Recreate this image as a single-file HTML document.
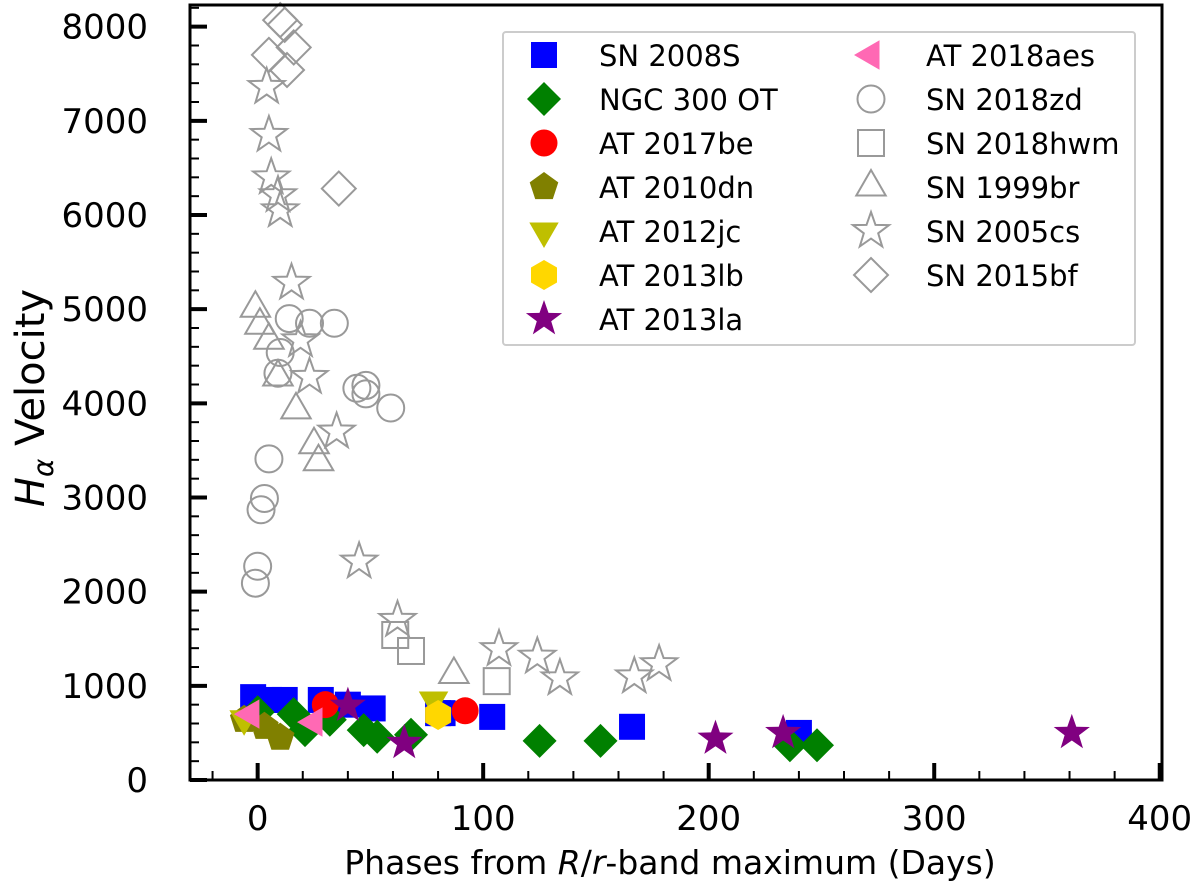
<!DOCTYPE html>
<html><head><meta charset="utf-8"><style>
body{margin:0;background:#fff}
svg{display:block;font-family:"DejaVu Sans","Liberation Sans",sans-serif}
</style></head><body>
<svg id="chart" width="1200" height="894" viewBox="0 0 1200 894" xmlns="http://www.w3.org/2000/svg">
<g id="marks"></g>
<g id="axes"></g>
<g id="legend"></g>
</svg>
<script>
const xTicks=[0,100,200,300,400];
const yTicks=[0,1000,2000,3000,4000,5000,6000,7000,8000];
const sn2008S_x=[-2,5,12,28,40,51,80,82,104,166,240];
const sn2008S_y=[880,850,850,850,800,760,710,710,670,565,500];
const ngc300_x=[0,16,21,32,47,53,68,125,152,236,248];
const ngc300_y=[720,700,530,640,530,460,480,415,415,370,370];
const at2017be_x=[30,92];
const at2017be_y=[800,735];
const at2010dn_x=[-6,3,10];
const at2010dn_y=[640,565,450];
const at2012jc_x=[-6,78];
const at2012jc_y=[650,850];
const at2013lb_x=[80];
const at2013lb_y=[690];
const at2013la_x=[40,65,203,233,361];
const at2013la_y=[790,395,440,500,500];
const at2018aes_x=[-3,25];
const at2018aes_y=[700,615];
const sn2018zd_x=[-1,0,1.5,3,5,10,9,14,23,34,44,48,48,59];
const sn2018zd_y=[2090,2270,2870,2990,3410,4540,4320,4900,4850,4850,4160,4190,4100,3950];
const sn2018hwm_x=[61,68,106];
const sn2018hwm_y=[1540,1370,1050];
const sn1999br_x=[-1,1,5,9,17,25,27,87];
const sn1999br_y=[5010,4830,4670,4280,3930,3560,3380,1120];
const sn2005cs_x=[4,5,6,9,10,15,19,23,35,45,62,107,124,134,167,178];
const sn2005cs_y=[7360,6850,6400,6210,6050,5280,4670,4280,3700,2320,1700,1390,1310,1080,1100,1230];
const sn2015bf_x=[10,12,16,5,13,36];
const sn2015bf_y=[8070,8020,7780,7700,7540,6280];

const L=190,R=1162,T=5,B=780;
const X0=-30,X1=401,Y0=0,Y1=8230;
const sx=v=>L+(v-X0)/(X1-X0)*(R-L);
const sy=v=>B-(v-Y0)/(Y1-Y0)*(B-T);
const NS="http://www.w3.org/2000/svg";
function mk(tag,attrs,parent){const e=document.createElementNS(NS,tag);for(const k in attrs)e.setAttribute(k,attrs[k]);parent.appendChild(e);return e;}
function starPts(cx,cy,r){let p=[];for(let i=0;i<10;i++){const a=-Math.PI/2+i*Math.PI/5;const rr=i%2?r*0.4:r;p.push((cx+rr*Math.cos(a)).toFixed(1)+","+(cy+rr*Math.sin(a)).toFixed(1));}return p.join(" ");}
function polyPts(cx,cy,r,n,rot){let p=[];for(let i=0;i<n;i++){const a=rot+i*2*Math.PI/n;p.push((cx+r*Math.cos(a)).toFixed(1)+","+(cy+r*Math.sin(a)).toFixed(1));}return p.join(" ");}
function marker(shape,cx,cy,fill,stroke,parent,s){
  s=s||1;let e;const st=stroke?{fill:"none",stroke:stroke,"stroke-width":2}:{fill:fill};
  if(shape==="square"){e=mk("rect",Object.assign({x:cx-13*s,y:cy-13*s,width:26*s,height:26*s},st),parent);}
  else if(shape==="diamond"){e=mk("polygon",Object.assign({points:polyPts(cx,cy,17*s,4,0)},st),parent);}
  else if(shape==="circle"){e=mk("circle",Object.assign({cx:cx,cy:cy,r:13.5*s},st),parent);}
  else if(shape==="pentagon"){e=mk("polygon",Object.assign({points:polyPts(cx,cy,15*s,5,-Math.PI/2)},st),parent);}
  else if(shape==="tdown"){e=mk("polygon",Object.assign({points:polyPts(cx,cy,17*s,3,Math.PI/2)},st),parent);}
  else if(shape==="tleft"){e=mk("polygon",Object.assign({points:polyPts(cx,cy,17*s,3,Math.PI)},st),parent);}
  else if(shape==="tup"){e=mk("polygon",Object.assign({points:polyPts(cx,cy,17*s,3,-Math.PI/2)},st),parent);}
  else if(shape==="hex"){e=mk("polygon",Object.assign({points:polyPts(cx,cy,15*s,6,-Math.PI/2)},st),parent);}
  else if(shape==="star"){e=mk("polygon",Object.assign({points:starPts(cx,cy,19*s)},st),parent);}
  return e;
}
const series=[
 {name:"SN 2008S",x:sn2008S_x,y:sn2008S_y,shape:"square",fill:"#0000ff",key:"sn-2008s"},
 {name:"NGC 300 OT",x:ngc300_x,y:ngc300_y,shape:"diamond",fill:"#008000",key:"ngc-300-ot"},
 {name:"AT 2017be",x:at2017be_x,y:at2017be_y,shape:"circle",fill:"#ff0000",key:"at-2017be"},
 {name:"AT 2010dn",x:at2010dn_x,y:at2010dn_y,shape:"pentagon",fill:"#808000",key:"at-2010dn"},
 {name:"AT 2012jc",x:at2012jc_x,y:at2012jc_y,shape:"tdown",fill:"#bfbf00",key:"at-2012jc"},
 {name:"AT 2013lb",x:at2013lb_x,y:at2013lb_y,shape:"hex",fill:"#ffd700",key:"at-2013lb"},
 {name:"AT 2013la",x:at2013la_x,y:at2013la_y,shape:"star",fill:"#800080",key:"at-2013la"},
 {name:"AT 2018aes",x:at2018aes_x,y:at2018aes_y,shape:"tleft",fill:"#ff69b4",key:"at-2018aes"},
 {name:"SN 2018zd",x:sn2018zd_x,y:sn2018zd_y,shape:"circle",stroke:"#999",key:"sn-2018zd"},
 {name:"SN 2018hwm",x:sn2018hwm_x,y:sn2018hwm_y,shape:"square",stroke:"#999",key:"sn-2018hwm"},
 {name:"SN 1999br",x:sn1999br_x,y:sn1999br_y,shape:"tup",stroke:"#999",key:"sn-1999br"},
 {name:"SN 2005cs",x:sn2005cs_x,y:sn2005cs_y,shape:"star",stroke:"#999",key:"sn-2005cs"},
 {name:"SN 2015bf",x:sn2015bf_x,y:sn2015bf_y,shape:"diamond",stroke:"#999",key:"sn-2015bf"}
];
const marks=document.getElementById("marks");
const order=[8,9,10,11,12,0,1,2,3,4,5,6,7];
order.forEach(i=>{const s=series[i];
  const g=mk("g",{},marks);
  
  
  s.x.forEach((xv,j)=>{const m=marker(s.shape,sx(xv),sy(s.y[j]),s.fill,s.stroke,g);
    
    
  });
});
const ax=document.getElementById("axes");
for(let v=-20;v<=400;v+=20){if(v%100===0)continue;const t=mk("line",{x1:sx(v),x2:sx(v),y1:B,y2:B-9,stroke:"#000","stroke-width":2},ax);
  
  }
for(let v=200;v<=8200;v+=200){if(v%1000===0)continue;const t=mk("line",{x1:L,x2:L+9,y1:sy(v),y2:sy(v),stroke:"#000","stroke-width":2},ax);
  
  }
xTicks.forEach(v=>{const t=mk("line",{x1:sx(v),x2:sx(v),y1:B,y2:B-17,stroke:"#000","stroke-width":4},ax);
  
  
  const tx=mk("text",{x:sx(v),y:B+50,"font-size":34,"text-anchor":"middle",fill:"#000"},ax);tx.textContent=v;
  
  });
yTicks.forEach(v=>{const t=mk("line",{x1:L,x2:L+17,y1:sy(v),y2:sy(v),stroke:"#000","stroke-width":4},ax);
  
  
  const tx=mk("text",{x:148,y:sy(v)+12,"font-size":34,"text-anchor":"end",fill:"#000"},ax);tx.textContent=v;
  
  });
const fr=mk("rect",{x:L,y:T,width:R-L,height:B-T,fill:"none",stroke:"#000","stroke-width":3},ax);


const xl=mk("text",{x:670,y:874,"font-size":33,"text-anchor":"middle",fill:"#000"},ax);
xl.innerHTML='Phases from <tspan font-style="italic">R</tspan>/<tspan font-style="italic">r</tspan>-band maximum (Days)';


const yl=mk("text",{x:0,y:0,"font-size":40,"text-anchor":"middle",fill:"#000",transform:"translate(44,398) rotate(-90)"},ax);
yl.innerHTML='<tspan font-style="italic">H</tspan><tspan font-style="italic" font-size="28" dy="9">α</tspan><tspan dy="-9"> Velocity</tspan>';


const lg=document.getElementById("legend");
const lb=mk("rect",{x:503,y:32,width:632,height:313,fill:"#fff","fill-opacity":0.8,stroke:"#ccc","stroke-width":2,rx:3},lg);


series.forEach((s,i)=>{const col=i<7?0:1,row=i<7?i:i-7;
  const mx=col?871:544,tx=col?926:599,y=55+row*44;
  const g=mk("g",{},lg);
  
  
  marker(s.shape,mx,y,s.fill,s.stroke,g,1);
  const t=mk("text",{x:tx,y:y+11,"font-size":29,fill:"#000"},g);t.textContent=s.name;
});
</script>
</body></html>
